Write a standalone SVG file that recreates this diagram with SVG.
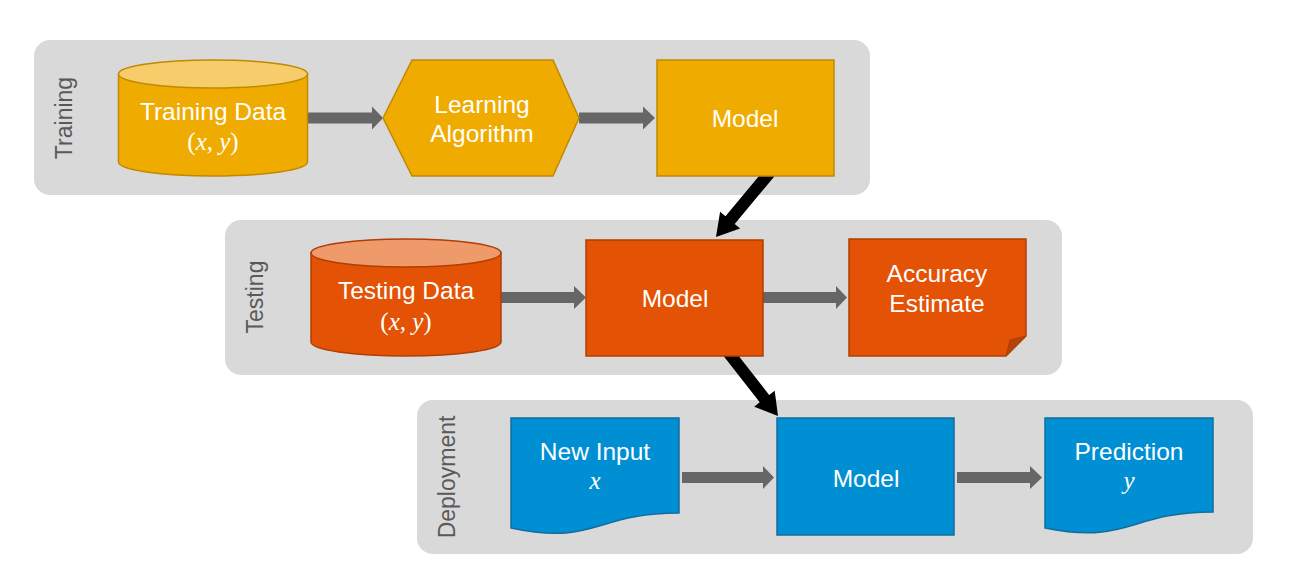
<svg xmlns="http://www.w3.org/2000/svg" width="1291" height="572" viewBox="0 0 1291 572">
<style>
.panel{fill:#d9d9d9}
.lbl{font-family:"Liberation Sans",Arial,sans-serif;font-size:23px;fill:#595959;text-anchor:middle}
.t{font-family:"Liberation Sans",Arial,sans-serif;font-size:24.5px;fill:#ffffff;text-anchor:middle}
.m{font-family:"Liberation Serif","Times New Roman",serif;font-size:25px;fill:#ffffff;text-anchor:middle}
.i{font-style:italic}
.gold{fill:#f0ab00;stroke:#bf8a00;stroke-width:1.5}
.goldtop{fill:#f7cd6b;stroke:#bf8a00;stroke-width:1.5}
.org{fill:#e35205;stroke:#b03f03;stroke-width:1.5}
.orgtop{fill:#ef9a6a;stroke:#b03f03;stroke-width:1.5}
.blue{fill:#008fd3;stroke:#136c9e;stroke-width:1.5}
.ga{fill:#666666}
.ba{fill:#000000}
</style>
<g id="panels">
<rect class="panel" x="34" y="40" width="836" height="155" rx="16"/>
<rect class="panel" x="225" y="220" width="837" height="155" rx="16"/>
<rect class="panel" x="417" y="400" width="836" height="154" rx="16"/>
<text class="lbl" transform="translate(72,118) rotate(-90)">Training</text>
<text class="lbl" transform="translate(263,297) rotate(-90)">Testing</text>
<text class="lbl" transform="translate(455,477) rotate(-90)">Deployment</text>
</g>
<g id="connectors">
<polygon class="ga" points="307,112.5 372,112.5 372,106.5 383,118 372,129.5 372,123.5 307,123.5"/>
<polygon class="ga" points="579,112.5 643,112.5 643,106.5 655,118 643,129.5 643,123.5 579,123.5"/>
<polygon class="ga" points="501,292 574,292 574,286 586,297.5 574,309 574,303 501,303"/>
<polygon class="ga" points="763,292 836,292 836,286 847,297.5 836,309 836,303 763,303"/>
<polygon class="ga" points="682,472 763,472 763,466 774,477.5 763,489 763,483 682,483"/>
<polygon class="ga" points="957,472 1030,472 1030,466 1042,477.5 1030,489 1030,483 957,483"/>
<g transform="translate(716,237) rotate(129.8)">
<polygon class="ba" points="-90,-6 -22,-6 -22,-13 0,0 -22,13 -22,6 -90,6"/>
</g>
<g transform="translate(778,416) rotate(52)">
<polygon class="ba" points="-90,-6 -22,-6 -22,-13 0,0 -22,13 -22,6 -90,6"/>
</g>
</g>
<g id="training-data">
<path class="gold" d="M118.5,74 V162 A94.5,14 0 0 0 307.5,162 V74 Z"/>
<ellipse class="goldtop" cx="213" cy="74" rx="94.5" ry="14"/>
<text class="t" x="213" y="120">Training Data</text>
<text class="m" x="213" y="150">(<tspan class="i">x</tspan>, <tspan class="i">y</tspan>)</text>
</g>
<g id="learning-algorithm">
<polygon class="gold" points="383,118 412,60 553,60 579,118 553,176 412,176"/>
<text class="t" x="482" y="113">Learning</text>
<text class="t" x="482" y="142">Algorithm</text>
</g>
<g id="model-train">
<rect class="gold" x="657" y="60" width="177" height="116"/>
<text class="t" x="745" y="127">Model</text>
</g>
<g id="testing-data">
<path class="org" d="M311,253 V342 A95,14 0 0 0 501,342 V253 Z"/>
<ellipse class="orgtop" cx="406" cy="253" rx="95" ry="14"/>
<text class="t" x="406" y="299">Testing Data</text>
<text class="m" x="406" y="330">(<tspan class="i">x</tspan>, <tspan class="i">y</tspan>)</text>
</g>
<g id="model-test">
<rect class="org" x="586" y="240" width="177" height="116"/>
<text class="t" x="675" y="307">Model</text>
</g>
<g id="accuracy-estimate">
<path class="org" d="M849,239 H1026 V336 L1006,356 H849 Z"/>
<path d="M1026,336 L1006,356 L1010,340 Z" fill="#b5430a" stroke="#b03f03" stroke-width="1"/>
<text class="t" x="937" y="282">Accuracy</text>
<text class="t" x="937" y="312">Estimate</text>
</g>
<g id="new-input">
<path class="blue" d="M511,418 H679 V513 C595,513 595,546 511,528 Z"/>
<text class="t" x="595" y="460">New Input</text>
<text class="m i" x="595" y="489">x</text>
</g>
<g id="model-deploy">
<rect class="blue" x="777" y="418" width="177" height="117"/>
<text class="t" x="866" y="487">Model</text>
</g>
<g id="prediction">
<path class="blue" d="M1045,418 H1213 V512 C1129,512 1129,545 1045,528 Z"/>
<text class="t" x="1129" y="460">Prediction</text>
<text class="m i" x="1129" y="489">y</text>
</g>
</svg>
